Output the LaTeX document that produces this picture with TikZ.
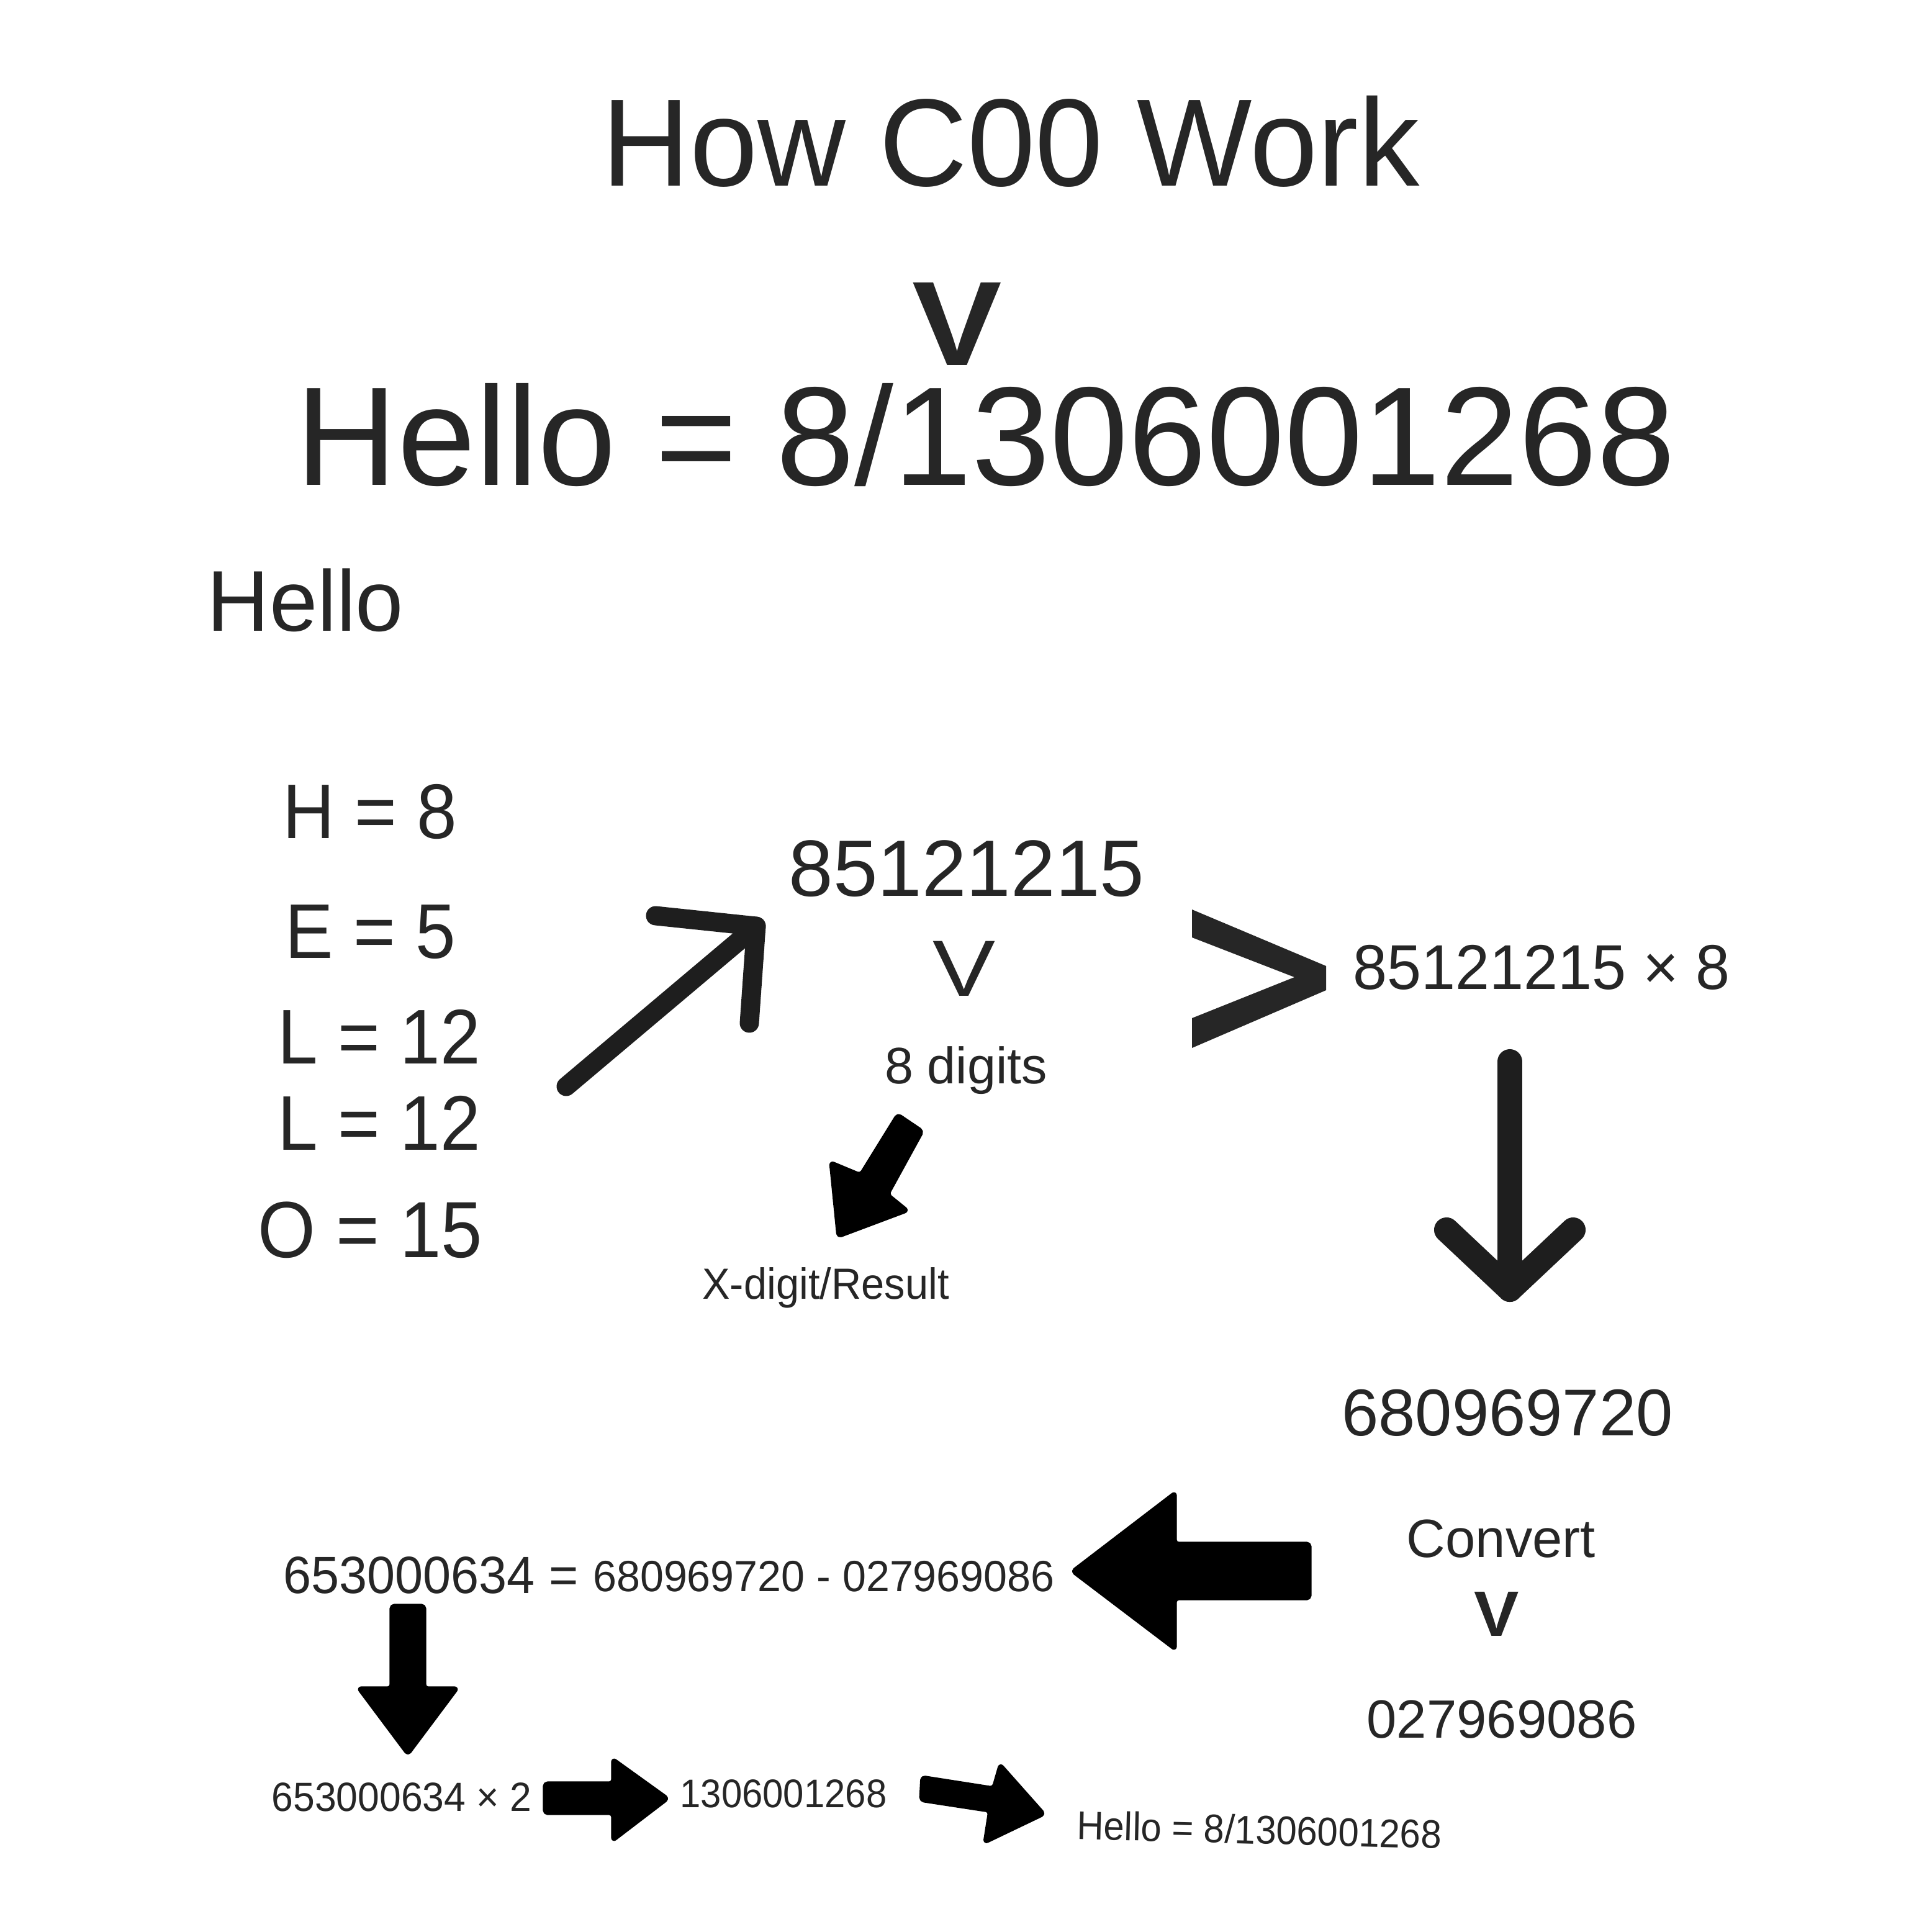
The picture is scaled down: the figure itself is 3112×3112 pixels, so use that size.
\documentclass[tikz,border=0pt]{standalone}
\usepackage{fontspec}
\setmainfont{Liberation Sans}
\definecolor{ink}{HTML}{262626}
\definecolor{pen}{HTML}{1E1E1E}
\newcommand{\myfs}[1]{\fontsize{#1}{#1}\selectfont}
\begin{document}
\begin{tikzpicture}[x=0.01cm,y=-0.01cm,
  txt/.style={inner sep=0pt, outer sep=0pt, anchor=base, text=ink},
  blockarrow/.style={fill=black, draw=black, line width=1.5pt, line join=round, rounded corners=1.5pt},
  linearrow/.style={draw=pen, line cap=round, line join=round},
  chev/.style={fill=ink, draw=none}]
\useasboundingbox[fill=white] (0,0) rectangle (3112,3112);

% texts
\node[txt, font=\myfs{57}, xscale=0.98] (title) at (1628,299) {How C00 Work};
\node[txt, font=\myfs{55}\bfseries, xscale=1.12, text depth=0pt] (v1) at (1542,588) {V};
\node[txt, font=\myfs{64.4}, text height=0.72em] (result) at (1588,781) {Hello = 8/1306001268};
\node[txt, font=\myfs{39.5}] (hello) at (492,1016) {Hello};
\node[txt, font=\myfs{35.5}, xscale=0.93] (h) at (596,1350) {H = 8};
\node[txt, font=\myfs{35.5}, xscale=0.93] (e) at (597,1543) {E = 5};
\node[txt, font=\myfs{35.5}, xscale=0.93] (l1) at (611,1713) {L = 12};
\node[txt, font=\myfs{35.5}, xscale=0.93] (l2) at (611,1852) {L = 12};
\node[txt, font=\myfs{36.5}, xscale=0.93] (o) at (596,2025) {O = 15};
\node[txt, font=\myfs{36.6}] (num) at (1557,1443) {85121215};
\node[txt, font=\myfs{36.5}, xscale=1.18] (v2) at (1553,1604) {V};
\node[txt, font=\myfs{23.5}] (digits) at (1556,1745) {8 digits};
\node[txt, font=\myfs{20}, xscale=0.95] (xdigit) at (1330,2092) {X-digit/Result};
\node[txt, font=\myfs{29}, xscale=0.97] (mul) at (2483,1593) {85121215 × 8};
\node[txt, font=\myfs{30.3}] (prod) at (2428,2312) {680969720};
\node[txt, font=\myfs{24.7}] (convert) at (2418,2508) {Convert};
\node[txt, font=\myfs{29.4}\bfseries, xscale=1.05] (v3) at (2411,2635) {V};
\node[txt, font=\myfs{24.7}] (conv) at (2419,2799) {027969086};
\node[txt, font=\myfs{24}, xscale=0.96] (diff) at (694,2566) {653000634 =};
\node[txt, font=\myfs{20}, xscale=0.97] (sub) at (1327,2563) {680969720 - 027969086};
\node[txt, font=\myfs{18.7}, xscale=0.95] (dbl) at (647,2917) {653000634 × 2};
\node[txt, font=\myfs{18.3}, xscale=0.93] (res) at (1262,2911) {1306001268};
\node[txt, font=\myfs{18.3}, xscale=0.93, rotate=-1.4] (final) at (2028,2970) {Hello = 8/1306001268};

% chevron ">"
\fill[chev] (1920,1465) -- (2136,1556) -- (2136,1595) -- (1920,1688) -- (1920,1640) -- (2085,1574) -- (1920,1510) -- cycle;

% diagonal line arrow (letters -> 85121215)
\coordinate (dA) at (912,1750);
\coordinate (dT) at (1218,1492);
\coordinate (dB1) at (1056,1475);
\coordinate (dB2) at (1207,1648);
\draw[linearrow, line width=8.8pt] (dA) -- (dT);
\draw[linearrow, line width=8.8pt] (dB1) -- (dT) -- (dB2);

% down line arrow (x8 -> 680969720)
\coordinate (sA) at (2432,1710);
\coordinate (sT) at (2432,2077);
\coordinate (sB1) at (2330,1981);
\coordinate (sB2) at (2534,1981);
\draw[linearrow, line width=11.4pt] (sA) -- (sT);
\draw[linearrow, line width=11.4pt] (sB1) -- (sT) -- (sB2);

% small block arrow (8 digits -> X-digit/Result)
\fill[blockarrow] (1446,1795) -- (1486,1822) -- (1430,1924) -- (1462,1950) -- (1350,1992) -- (1338,1872) -- (1386,1892) -- cycle;

% big left block arrow
\fill[blockarrow] (2110,2486) -- (1893,2486) -- (1893,2404) -- (1727,2531) -- (1893,2657) -- (1893,2575) -- (2110,2575) -- cycle;

% down block arrow
\fill[blockarrow] (630,2586) -- (684,2586) -- (684,2719) -- (737,2719) -- (657,2826) -- (577,2719) -- (630,2719) -- cycle;

% right block arrow
\fill[blockarrow] (877,2872) -- (987,2872) -- (987,2833) -- (1076,2897) -- (987,2965) -- (987,2921) -- (877,2921) -- cycle;

% tilted block arrow
\fill[blockarrow] (1485,2862) -- (1600,2880) -- (1611,2842) -- (1682,2922) -- (1586,2968) -- (1594,2917) -- (1483,2900) -- cycle;
\end{tikzpicture}
\end{document}
